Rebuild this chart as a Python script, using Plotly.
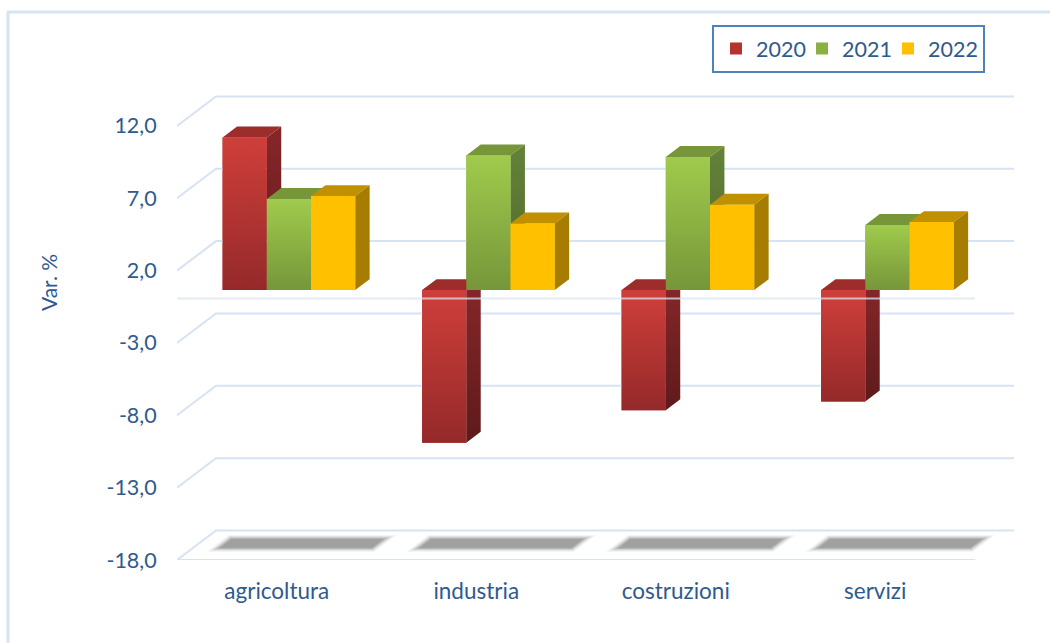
import plotly.graph_objects as go

# ---- data ----
categories = ["agricoltura", "industria", "costruzioni", "servizi"]
years = ["2020", "2021", "2022"]
values_2020 = [10.55, -10.55, -8.3, -7.7]
values_2021 = [6.3, 9.3, 9.2, 4.5]
values_2022 = [6.5, 4.6, 5.9, 4.7]
tick_values = [12, 7, 2, -3, -8, -13, -18]
tick_labels = ["12,0", "7,0", "2,0", "-3,0", "-8,0", "-13,0", "-18,0"]

# ---- styling ----
FRONT = {
    "2020": ("#CF3F3A", "#95292A"),
    "2021": ("#A0CB4C", "#76963A"),
    "2022": ("#FFC000", "#FFC000"),
}
SIDE = {
    "2020": ("#86272A", "#5F1A1A"),
    "2021": ("#64823A", "#52692B"),
    "2022": ("#A67D00", "#A67D00"),
}
TOP = {"2020": "#9C2D2A", "2021": "#77963A", "2022": "#C09000"}
SWATCH = {"2020": "#B5332F", "2021": "#8CB043", "2022": "#FFC000"}
TEXT = "#2F5A8E"
GRID = "#D6E3F3"
FONT = "Lato"

W, H = 1050, 643
L, R, T, B = 177, 1014, 95, 560
PX_PER_CAT = 199.5
PX_PER_UNIT = 14.47
X_RANGE = [0, (R - L) / PX_PER_CAT]
Y_RANGE = [-18, -18 + (B - T) / PX_PER_UNIT]
DEPTH_X = 39 / PX_PER_CAT       # full floor depth, in category units
DEPTH_Y = 29.5 / PX_PER_UNIT    # full floor depth, in value units
BAR_D0, BAR_D1 = 0.32, 0.69     # bar front and back position inside the depth
BAR_W = 44.2 / PX_PER_CAT
GROUP_START = 0.166             # left edge of the cluster on the front plane


def px(x, d=0.0):
    return x + d * DEPTH_X


def py(v, d=0.0):
    return v + d * DEPTH_Y


series = {"2020": values_2020, "2021": values_2021, "2022": values_2022}
fig = go.Figure()

# back wall gridlines and their left diagonals
gx, gy = [], []
for t in tick_values:
    gx += [px(0), px(0, 1), X_RANGE[1], None]
    gy += [py(t), py(t, 1), py(t, 1), None]
fig.add_trace(go.Scatter(x=gx, y=gy, mode="lines", line=dict(color=GRID, width=2),
                         showlegend=False, hoverinfo="skip", cliponaxis=False))
# floor front edge
fig.add_trace(go.Scatter(x=[0, 4], y=[-18, -18], mode="lines", line=dict(color=GRID, width=2),
                         showlegend=False, hoverinfo="skip", cliponaxis=False))

# floor shadows (soft edge + core)
for i in range(len(categories)):
    for grow, alpha in ((0.032, 0.06), (0.026, 0.08), (0.020, 0.11), (0.014, 0.15),
                        (0.008, 0.2), (0.002, 0.28), (-0.004, 0.4), (-0.010, 0.55)):
        x0, x1 = i + 0.125 - grow, i + 0.905 + grow
        d0, d1 = 0.38 - grow * 3.5, 0.74 + grow * 3.5
        fig.add_trace(go.Scatter(
            x=[px(x0, d0), px(x1, d0), px(x1, d1), px(x0, d1), px(x0, d0)],
            y=[py(-18, d0), py(-18, d0), py(-18, d1), py(-18, d1), py(-18, d0)],
            mode="lines", fill="toself", fillcolor=f"rgba(150,150,150,{alpha})",
            line=dict(width=0), showlegend=False, hoverinfo="skip"))

# real bars: front faces and legend
for j, year in enumerate(years):
    vals = series[year]
    fig.add_trace(go.Bar(
        x=[px(i + GROUP_START + (j + 0.5) * BAR_W, BAR_D0) for i in range(len(categories))],
        y=vals,
        base=[py(0, BAR_D0)] * len(categories),
        width=BAR_W,
        name=year,
        legendwidth=56 if j == len(years) - 1 else None,
        marker=dict(color=SWATCH[year], line=dict(width=0)),
        hoverinfo="skip",
    ))


def poly(xs, ys, color=None, grad=None):
    kw = dict(fillcolor=color) if color else dict(
        fillgradient=dict(type="vertical", start=grad[0], stop=grad[1],
                          colorscale=[[0, grad[2]], [1, grad[3]]]))
    fig.add_trace(go.Scatter(x=xs + xs[:1], y=ys + ys[:1], mode="lines", fill="toself",
                             line=dict(width=0), showlegend=False, hoverinfo="skip", **kw))


# 3D faces, painted left to right in each cluster
for i in range(len(categories)):
    for j, year in enumerate(years):
        v = series[year][i]
        x0 = i + GROUP_START + j * BAR_W
        x1 = x0 + BAR_W
        hi, lo = max(v, 0), min(v, 0)
        dd = BAR_D1 - BAR_D0
        yt, yb = py(hi, BAR_D0), py(lo, BAR_D0)
        xf0, xf1 = px(x0, BAR_D0), px(x1, BAR_D0)
        dx, dy = dd * DEPTH_X, dd * DEPTH_Y
        # top face
        poly([xf0, xf1, xf1 + dx, xf0 + dx], [yt, yt, yt + dy, yt + dy], color=TOP[year])
        # side face
        s0, s1 = SIDE[year]
        poly([xf1, xf1 + dx, xf1 + dx, xf1], [yt, yt + dy, yb + dy, yb],
             grad=(yt + dy, yb, s0, s1))
        # front face
        f0, f1 = FRONT[year]
        poly([xf0, xf1, xf1, xf0], [yt, yt, yb, yb], grad=(yt, yb, f0, f1))

# front zero line passes over the bars
fig.add_trace(go.Scatter(x=[0, 4], y=[0.08, 0.08], mode="lines",
                         line=dict(color="rgba(218,229,243,0.75)", width=2),
                         showlegend=False, hoverinfo="skip"))


def fx(p):
    return (p - L) / (R - L)


def fy(p):
    return (B - p) / (B - T)


fig.update_layout(
    width=W, height=H,
    margin=dict(l=L, r=W - R, t=T, b=H - B, autoexpand=False),
    paper_bgcolor="white", plot_bgcolor="rgba(0,0,0,0)",
    barmode="overlay",
    font=dict(family=FONT, color=TEXT, size=21),
    xaxis=dict(range=X_RANGE, tickmode="array",
               tickvals=[i + 0.5 for i in range(len(categories))], ticktext=categories,
               showgrid=False, zeroline=False, showline=False,
               ticks="outside", ticklen=11, tickcolor="rgba(0,0,0,0)",
               tickfont=dict(family=FONT, size=22.5, color=TEXT)),
    yaxis=dict(range=Y_RANGE, tickmode="array", tickvals=tick_values, ticktext=tick_labels,
               showgrid=False, zeroline=False, showline=False,
               ticks="outside", ticklen=15, tickcolor="rgba(0,0,0,0)",
               tickfont=dict(family=FONT, size=21.5, color=TEXT)),
    legend=dict(orientation="h", x=fx(716), y=fy(28), xanchor="left", yanchor="top",
                borderwidth=0, bgcolor="rgba(0,0,0,0)",
                font=dict(family=FONT, size=21.5, color=TEXT),
                entrywidth=41, entrywidthmode="pixels",
                itemclick=False, itemdoubleclick=False),
    annotations=[dict(text="Var. %", xref="paper", yref="paper", x=fx(48), y=fy(283),
                      xanchor="center", yanchor="middle", textangle=-90, showarrow=False,
                      font=dict(family=FONT, size=21, color=TEXT))],
    shapes=[
        dict(type="line", xref="paper", yref="paper", x0=fx(7), x1=fx(W), y0=fy(12), y1=fy(12),
             line=dict(color="#D5E3F4", width=3)),
        dict(type="line", xref="paper", yref="paper", x0=fx(8), x1=fx(8), y0=fy(12), y1=fy(H),
             line=dict(color="#D5E3F4", width=3)),
        dict(type="rect", xref="paper", yref="paper", x0=fx(713), x1=fx(984), y0=fy(26), y1=fy(72),
             line=dict(color="#4F81BD", width=2), fillcolor="white", layer="below"),
    ],
)

fig.write_html("out.html", config={"displayModeBar": False},
               post_script="document.body.style.margin='0';document.body.style.overflow='hidden';")
